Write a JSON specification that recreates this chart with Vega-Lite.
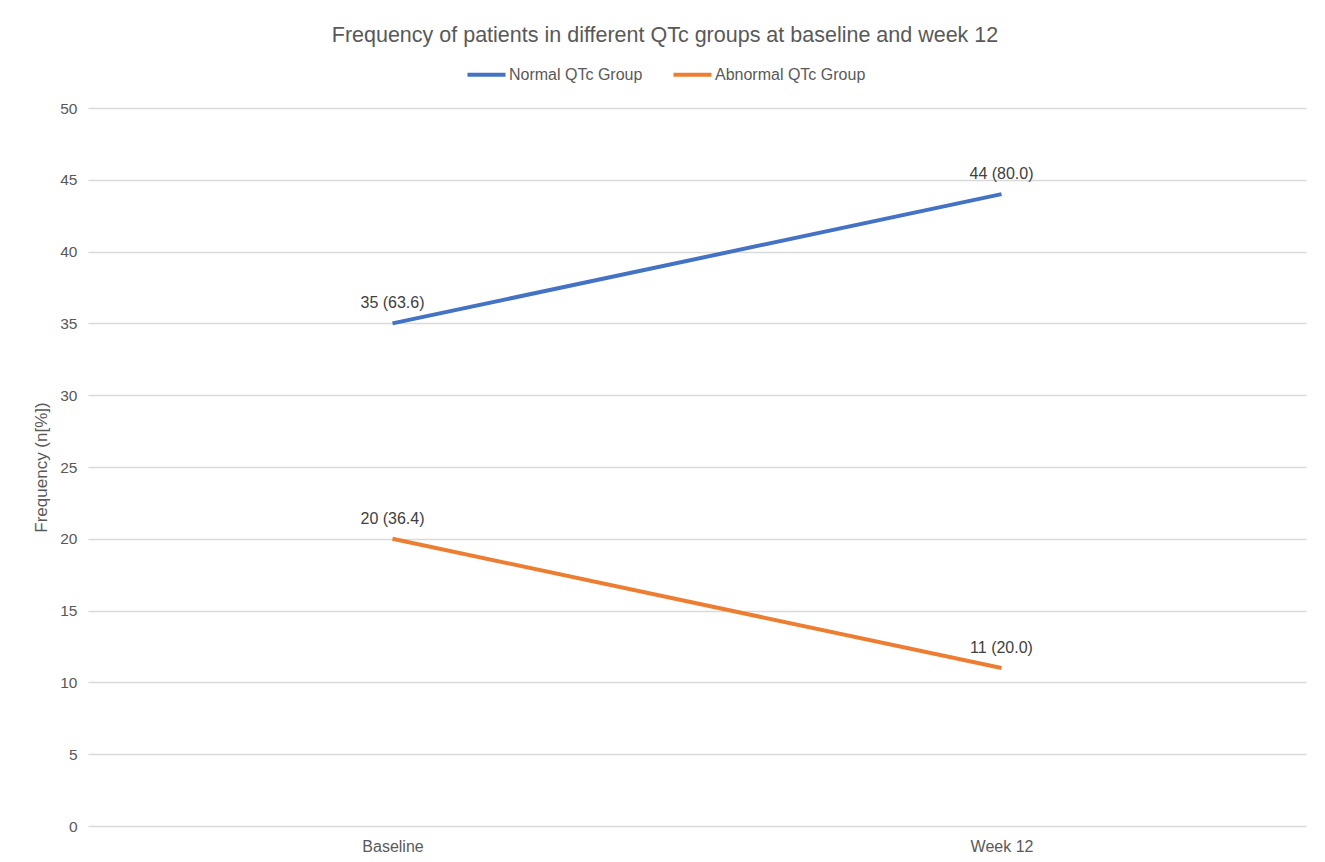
{
  "$schema": "https://vega.github.io/schema/vega-lite/v6.json",
  "width": 1218,
  "height": 718,
  "autosize": {"type": "none"},
  "padding": {"left": 88, "top": 108, "right": 19, "bottom": 36},
  "background": "white",
  "config": {
    "font": "Liberation Sans",
    "view": {"stroke": null}
  },
  "title": {
    "text": "Frequency of patients in different QTc groups at baseline and week 12",
    "anchor": "middle",
    "frame": "group",
    "fontSize": 21.5,
    "fontWeight": "normal",
    "color": "#595959",
    "orient": "top",
    "offset": 7,
    "dx": -32
  },
  "data": {
    "values": [
      {"time": "Baseline", "group": "Normal QTc Group", "n": 35, "label": "35 (63.6)"},
      {"time": "Week 12", "group": "Normal QTc Group", "n": 44, "label": "44 (80.0)"},
      {"time": "Baseline", "group": "Abnormal QTc Group", "n": 20, "label": "20 (36.4)"},
      {"time": "Week 12", "group": "Abnormal QTc Group", "n": 11, "label": "11 (20.0)"}
    ]
  },
  "encoding": {
    "x": {
      "field": "time",
      "type": "nominal",
      "scale": {"type": "point", "padding": 0.5},
      "axis": {
        "title": null,
        "labelAngle": 0,
        "labelFontSize": 16,
        "labelColor": "#595959",
        "labelPadding": 12,
        "domain": false,
        "ticks": false,
        "grid": false
      }
    },
    "y": {
      "field": "n",
      "type": "quantitative",
      "scale": {"domain": [0, 50], "nice": false},
      "axis": {
        "title": "Frequency (n[%])",
        "titleFontSize": 17,
        "titleFontWeight": "normal",
        "titleColor": "#595959",
        "titlePadding": 9,
        "values": [0, 5, 10, 15, 20, 25, 30, 35, 40, 45, 50],
        "labelFontSize": 15.5,
        "labelColor": "#595959",
        "labelPadding": 11,
        "domain": false,
        "ticks": false,
        "grid": true,
        "gridColor": "#d9d9d9",
        "gridWidth": 1.5
      }
    },
    "color": {
      "field": "group",
      "type": "nominal",
      "scale": {
        "domain": ["Normal QTc Group", "Abnormal QTc Group"],
        "range": ["#4472C4", "#ED7D31"]
      },
      "legend": {
        "title": null,
        "orient": "none",
        "direction": "horizontal",
        "legendX": 377,
        "legendY": -55,
        "symbolType": "stroke",
        "symbolSize": 1450,
        "symbolStrokeWidth": 4,
        "labelFontSize": 16,
        "labelColor": "#595959",
        "labelOffset": 1,
        "columnPadding": 22
      }
    }
  },
  "layer": [
    {
      "mark": {"type": "line", "strokeWidth": 4}
    },
    {
      "mark": {"type": "text", "dy": -20, "fontSize": 16},
      "encoding": {
        "text": {"field": "label"},
        "color": {"value": "#404040"}
      }
    }
  ]
}
